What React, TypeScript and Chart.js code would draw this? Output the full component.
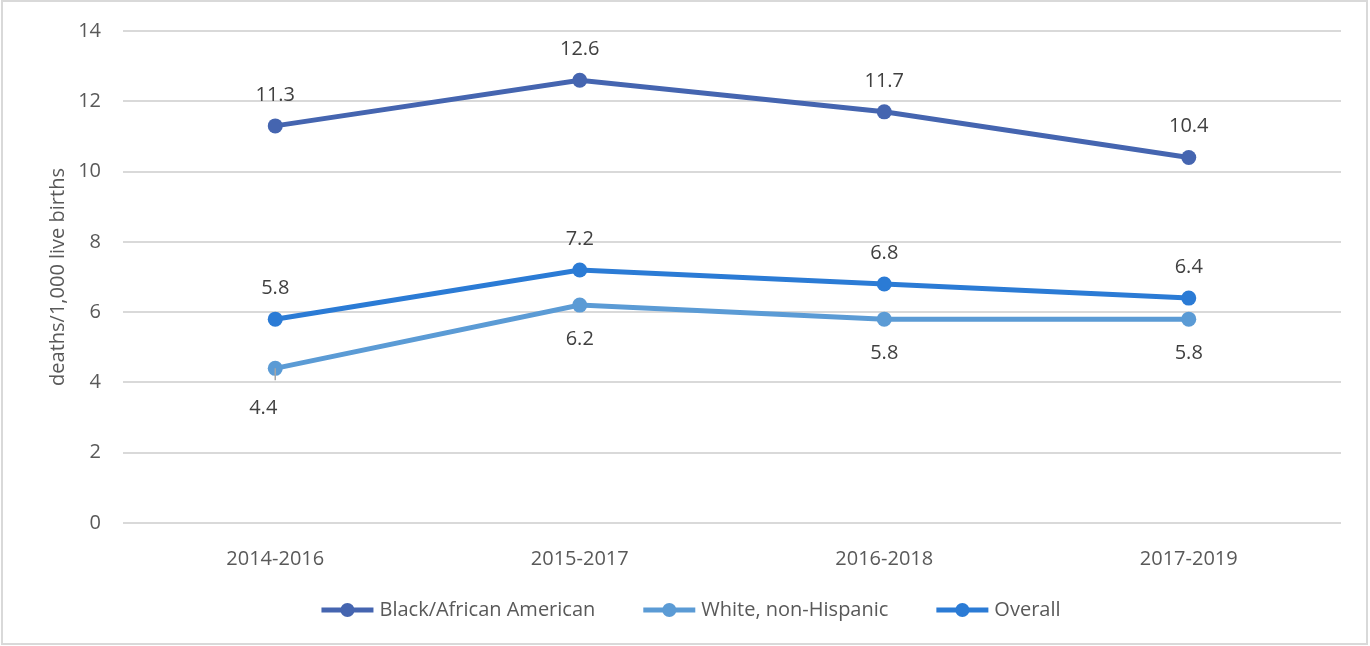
import React, { useEffect, useRef } from "react";
import { Chart, registerables } from "chart.js";

Chart.register(...registerables);

const categories = ["2014-2016", "2015-2017", "2016-2018", "2017-2019"];
const blackValues = [11.3, 12.6, 11.7, 10.4];
const whiteValues = [4.4, 6.2, 5.8, 5.8];
const overallValues = [5.8, 7.2, 6.8, 6.4];
const seriesNames = ["Black/African American", "White, non-Hispanic", "Overall"];
const seriesColors = ["#4565B0", "#5B9BD5", "#2B7BD5"];
const labelSides = ["above", "below", "above"];
const yTicks = [0, 2, 4, 6, 8, 10, 12, 14];

const FONT = "'Open Sans', 'Liberation Sans', sans-serif";

const borderPlugin = {
  id: "frameBorder",
  beforeDraw(chart: any) {
    const ctx = chart.ctx;
    ctx.save();
    ctx.fillStyle = "#ffffff";
    ctx.fillRect(0, 0, chart.width, chart.height);
    ctx.strokeStyle = "#d9d9d9";
    ctx.lineWidth = 2;
    ctx.strokeRect(2, 1, chart.width - 5, chart.height - 3);
    ctx.restore();
  },
};

const dataLabelPlugin = {
  id: "dataLabels",
  afterDatasetsDraw(chart: any) {
    const ctx = chart.ctx;
    ctx.save();
    ctx.font = `20px ${FONT}`;
    ctx.fillStyle = "#404040";
    ctx.textAlign = "center";
    ctx.textBaseline = "middle";
    chart.data.datasets.forEach((ds: any, i: number) => {
      const meta = chart.getDatasetMeta(i);
      meta.data.forEach((pt: any, j: number) => {
        const v = ds.data[j];
        const side = labelSides[i];
        let x = pt.x;
        let y = side === "above" ? pt.y - 31 : pt.y + 34;
        if (side === "below" && j === 0) {
          ctx.save();
          ctx.strokeStyle = "#a6a6a6";
          ctx.lineWidth = 1.5;
          ctx.beginPath();
          ctx.moveTo(pt.x, pt.y);
          ctx.lineTo(pt.x, pt.y + 12);
          ctx.stroke();
          ctx.restore();
          x = pt.x - 12;
          y = pt.y + 40;
        }
        ctx.fillText(v.toFixed(1), x, y);
      });
    });
    ctx.restore();
  },
};

const legendPlugin = {
  id: "customLegend",
  afterDraw(chart: any) {
    const ctx = chart.ctx;
    ctx.save();
    ctx.font = `20px ${FONT}`;
    const markerW = 52;
    const textGap = 6;
    const itemGap = 48;
    const items = chart.data.datasets.map((ds: any) => ({
      label: ds.label,
      color: ds.borderColor,
      w: markerW + textGap + ctx.measureText(ds.label).width,
    }));
    const total = items.reduce((s: number, it: any) => s + it.w, 0) + itemGap * (items.length - 1);
    let x = 691 - total / 2;
    const y = 610;
    items.forEach((it: any) => {
      ctx.strokeStyle = it.color;
      ctx.lineWidth = 5;
      ctx.beginPath();
      ctx.moveTo(x, y);
      ctx.lineTo(x + markerW, y);
      ctx.stroke();
      ctx.fillStyle = it.color;
      ctx.beginPath();
      ctx.arc(x + markerW / 2, y, 7, 0, Math.PI * 2);
      ctx.fill();
      ctx.fillStyle = "#595959";
      ctx.textAlign = "left";
      ctx.textBaseline = "middle";
      ctx.fillText(it.label, x + markerW + textGap, y);
      x += it.w + itemGap;
    });
    ctx.restore();
  },
};

export default function App() {
  const ref = useRef<HTMLCanvasElement | null>(null);

  useEffect(() => {
    if (!ref.current) return;
    const values = [blackValues, whiteValues, overallValues];
    const chart = new Chart(ref.current, {
      type: "line",
      data: {
        labels: categories,
        datasets: values.map((vals, i) => ({
          label: seriesNames[i],
          data: vals,
          borderColor: seriesColors[i],
          backgroundColor: seriesColors[i],
          borderWidth: 5,
          pointRadius: 7.5,
          pointHoverRadius: 7.5,
          pointBackgroundColor: seriesColors[i],
          pointBorderColor: seriesColors[i],
          pointBorderWidth: 0,
          tension: 0,
          fill: false,
        })),
      },
      options: {
        responsive: false,
        animation: false,
        devicePixelRatio: 1,
        layout: { padding: { left: 0, right: 29, top: 31, bottom: 0 } },
        plugins: {
          legend: { display: false },
          tooltip: { enabled: false },
        },
        scales: {
          x: {
            offset: true,
            grid: { display: false, drawTicks: false },
            border: { display: false },
            ticks: {
              color: "#595959",
              font: { family: FONT, size: 20 },
              padding: 24,
              maxRotation: 0,
            },
            afterFit(scale: any) {
              scale.height = 123;
              scale.paddingLeft = 0;
              scale.paddingRight = 0;
            },
          },
          y: {
            min: 0,
            max: 14,
            afterBuildTicks(scale: any) {
              scale.ticks = yTicks.map((v) => ({ value: v }));
            },
            grid: { color: "#d9d9d9", lineWidth: 2, drawTicks: false },
            border: { display: false },
            ticks: {
              color: "#595959",
              font: { family: FONT, size: 20 },
              padding: 22,
            },
            title: {
              display: true,
              text: "deaths/1,000 live births",
              color: "#595959",
              font: { family: FONT, size: 20 },
              padding: { top: 46, bottom: 0 },
            },
            afterFit(scale: any) {
              scale.width = 123;
              scale.paddingTop = 0;
              scale.paddingBottom = 0;
            },
          },
        },
      },
      plugins: [borderPlugin, dataLabelPlugin, legendPlugin],
    });
    return () => chart.destroy();
  }, []);

  return (
    <div style={{ position: "fixed", left: 0, top: 0, width: 1370, height: 646, background: "#fff" }}>
      <canvas ref={ref} width={1370} height={646} style={{ display: "block" }} />
    </div>
  );
}
